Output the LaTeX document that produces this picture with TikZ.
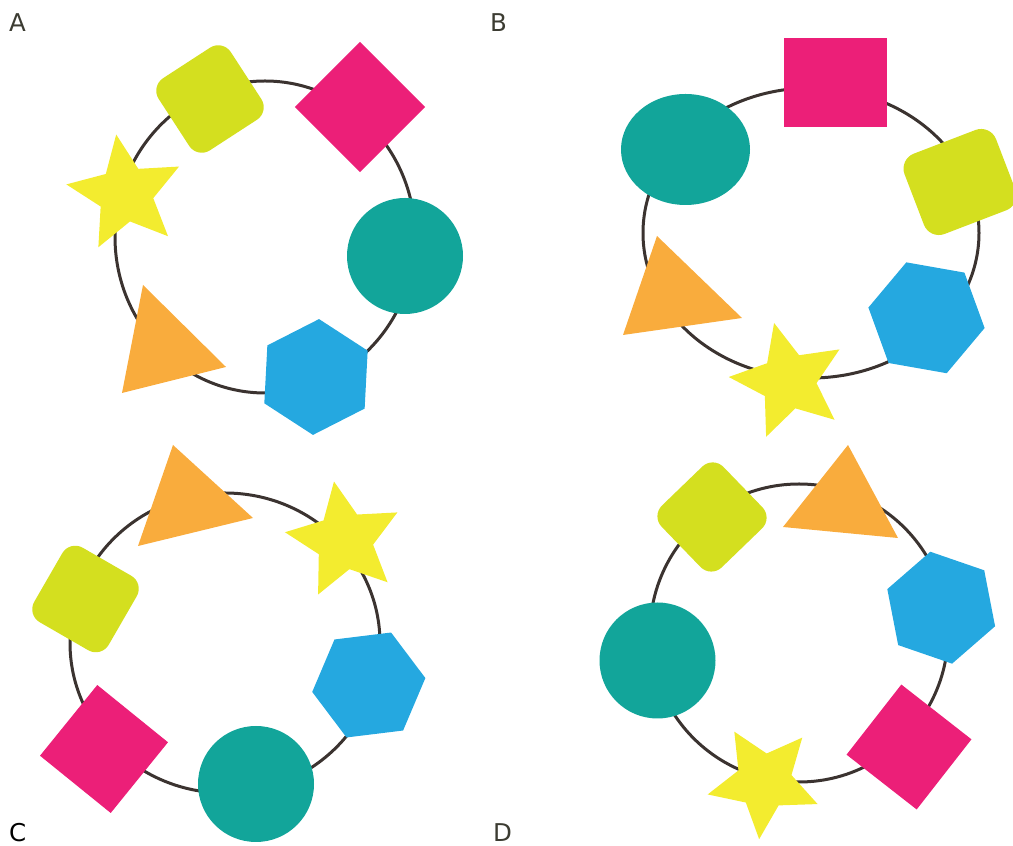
\documentclass[tikz,border=0pt]{standalone}
\usepackage{fontspec}
\newfontfamily\labelfont{DejaVu Sans}
\definecolor{ringcol}{HTML}{3B3330}
\definecolor{limecol}{HTML}{D4DF1F}
\definecolor{magcol}{HTML}{EC1F78}
\definecolor{tealcol}{HTML}{12A59A}
\definecolor{bluecol}{HTML}{25A8E0}
\definecolor{orangecol}{HTML}{F9AC3D}
\definecolor{yelcol}{HTML}{F3EC2F}
\definecolor{labcol}{HTML}{3C3C32}
\newcommand\mystar[5]{%
  \fill[yelcol,shift={(#1,#2)}] (#3:#4) -- ({#3+36}:#5) -- ({#3+72}:#4) -- ({#3+108}:#5) -- ({#3+144}:#4) -- ({#3+180}:#5) -- ({#3+216}:#4) -- ({#3+252}:#5) -- ({#3+288}:#4) -- ({#3+324}:#5) -- cycle;}
\newcommand\myhex[4]{%
  \fill[bluecol,shift={(#1,#2)}] (#3:#4) -- ({#3+60}:#4) -- ({#3+120}:#4) -- ({#3+180}:#4) -- ({#3+240}:#4) -- ({#3+300}:#4) -- cycle;}
\begin{document}
\begin{tikzpicture}[x=1pt,y=1pt,
  ring/.style={draw=ringcol,line width=3pt},
  lbl/.style={font=\labelfont\fontsize{24.5}{28}\selectfont,text=labcol,inner sep=0pt,anchor=base west}]
\useasboundingbox (0,0) rectangle (1013,846);
\clip (0,0) rectangle (1013,846);
% ---------- Panel A ----------
\draw[ring] (265,609) ellipse[x radius=150,y radius=156];
\fill[limecol,rounded corners=15,rotate around={33:(210,747)}] (167,704) rectangle (253,790);
\fill[magcol,rotate around={45:(360,739)}] (314,693) rectangle (406,785);
\fill[tealcol] (405,590) circle[radius=58];
\myhex{316}{469}{87}{58}
\mystar{125.6}{652.2}{99}{60}{28}
\fill[orangecol] (143,561) -- (226,479) -- (122,453) -- cycle;
% ---------- Panel B ----------
\draw[ring] (811,613) ellipse[x radius=168,y radius=145];
\fill[magcol] (784,808) rectangle (887,719);
\fill[tealcol] (685.5,696.5) ellipse[x radius=64.5,y radius=55.5];
\fill[limecol,rounded corners=16,rotate around={21:(960,664)}] (911,621) rectangle (1009,707);
\fill[orangecol] (657,610) -- (742,528) -- (623,511) -- cycle;
\myhex{926.5}{528.2}{-10}{59}
\mystar{788.6}{464.8}{104}{60}{28}
% ---------- Panel C ----------
\draw[ring] (225,203) ellipse[x radius=155,y radius=150];
\fill[orangecol] (173,401) -- (253,328) -- (138,300) -- cycle;
\mystar{344.4}{305.4}{100}{60}{29}
\fill[limecol,rounded corners=15,rotate around={-30:(85.5,247)}] (42.5,204) rectangle (128.5,290);
\fill[magcol,rotate around={-39:(104,97)}] (58.5,51.5) rectangle (149.5,142.5);
\fill[tealcol] (256,62) circle[radius=58];
\myhex{368.8}{161}{7}{57}
% ---------- Panel D ----------
\draw[ring] (799,213) circle[radius=149];
\fill[limecol,rounded corners=15,rotate around={44:(712,329)}] (669,286) rectangle (755,372);
\fill[orangecol] (848,401) -- (898,308) -- (783,319) -- cycle;
\myhex{941.2}{238.3}{-19}{57}
\fill[magcol,rotate around={-38:(909,99)}] (864.5,54.5) rectangle (953.5,143.5);
\fill[tealcol] (657.5,185.5) circle[radius=58];
\mystar{764.2}{64.6}{121}{58}{28}
% ---------- Labels ----------
\node[lbl] (labA) at (9,814) {A};
\node[lbl] (labB) at (490,814) {B};
\node[lbl,text=black] (labC) at (9,4) {C};
\node[lbl] (labD) at (493,4.5) {D};
\end{tikzpicture}
\end{document}
